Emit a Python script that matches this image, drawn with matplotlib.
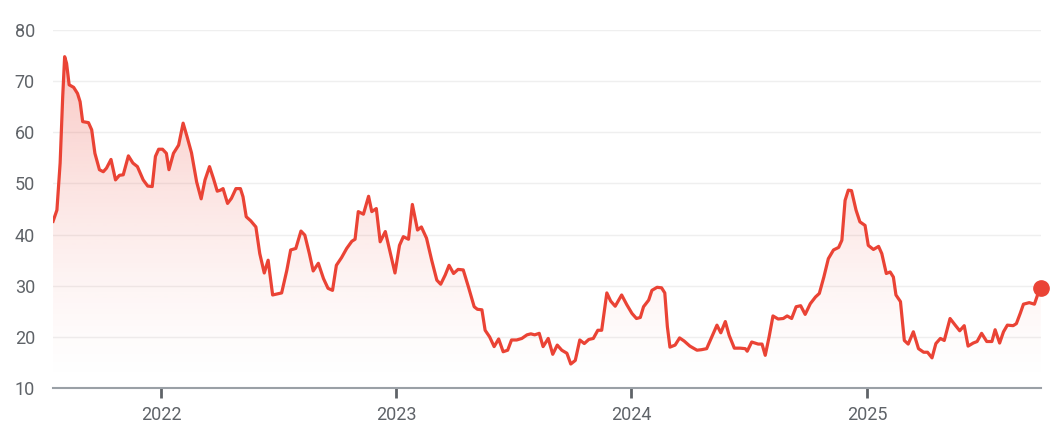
import numpy as np
import pandas as pd
import matplotlib
matplotlib.use("Agg")
import matplotlib.pyplot as plt
import matplotlib.dates as mdates
from matplotlib.patches import Polygon

plt.rcParams['font.family'] = ['Roboto', 'DejaVu Sans']

# weekly-ish series
dates = [
    "2021-07-17", "2021-07-23", "2021-07-28", "2021-08-01", "2021-08-04", "2021-08-07",
    "2021-08-11", "2021-08-18", "2021-08-24", "2021-08-28", "2021-09-01", "2021-09-10",
    "2021-09-15", "2021-09-20", "2021-09-27", "2021-10-03", "2021-10-08", "2021-10-15",
    "2021-10-22", "2021-10-28", "2021-11-03", "2021-11-11", "2021-11-18", "2021-11-25",
    "2021-12-04", "2021-12-11", "2021-12-18", "2021-12-23", "2021-12-28", "2022-01-03",
    "2022-01-09", "2022-01-13", "2022-01-20", "2022-01-28", "2022-02-04", "2022-02-10",
    "2022-02-17", "2022-02-25", "2022-03-04", "2022-03-10", "2022-03-17", "2022-03-23",
    "2022-03-29", "2022-04-03", "2022-04-07", "2022-04-14", "2022-04-20", "2022-04-27",
    "2022-05-04", "2022-05-08", "2022-05-13", "2022-05-20", "2022-05-28", "2022-06-03",
    "2022-06-10", "2022-06-16", "2022-06-23", "2022-06-30", "2022-07-07", "2022-07-15",
    "2022-07-21", "2022-07-29", "2022-08-06", "2022-08-12", "2022-08-19", "2022-08-25",
    "2022-09-02", "2022-09-10", "2022-09-17", "2022-09-24", "2022-09-30", "2022-10-08",
    "2022-10-16", "2022-10-24", "2022-10-29", "2022-11-03", "2022-11-11", "2022-11-19",
    "2022-11-24", "2022-12-01", "2022-12-07", "2022-12-15", "2022-12-23", "2022-12-30",
    "2023-01-06", "2023-01-12", "2023-01-20", "2023-01-26", "2023-02-03", "2023-02-09",
    "2023-02-17", "2023-02-25", "2023-03-05", "2023-03-11", "2023-03-18", "2023-03-24",
    "2023-03-31", "2023-04-07", "2023-04-15", "2023-04-23", "2023-05-02", "2023-05-07",
    "2023-05-14", "2023-05-19", "2023-05-26", "2023-06-02", "2023-06-09", "2023-06-16",
    "2023-06-23", "2023-06-29", "2023-07-07", "2023-07-15", "2023-07-23", "2023-07-29",
    "2023-08-04", "2023-08-11", "2023-08-17", "2023-08-25", "2023-09-01", "2023-09-08",
    "2023-09-15", "2023-09-23", "2023-09-29", "2023-10-06", "2023-10-13", "2023-10-20",
    "2023-10-27", "2023-11-03", "2023-11-10", "2023-11-16", "2023-11-24", "2023-11-30",
    "2023-12-07", "2023-12-17", "2023-12-25", "2024-01-02", "2024-01-09", "2024-01-15",
    "2024-01-20", "2024-01-28", "2024-02-02", "2024-02-10", "2024-02-17", "2024-02-22",
    "2024-02-26", "2024-03-01", "2024-03-09", "2024-03-16", "2024-03-23", "2024-04-01",
    "2024-04-12", "2024-04-19", "2024-04-27", "2024-05-05", "2024-05-13", "2024-05-19",
    "2024-05-26", "2024-06-01", "2024-06-09", "2024-06-18", "2024-06-26", "2024-06-29",
    "2024-07-06", "2024-07-11", "2024-07-16", "2024-07-22", "2024-07-27", "2024-08-02",
    "2024-08-08", "2024-08-16", "2024-08-24", "2024-08-30", "2024-09-06", "2024-09-13",
    "2024-09-20", "2024-09-27", "2024-10-05", "2024-10-13", "2024-10-19", "2024-10-26",
    "2024-11-02", "2024-11-10", "2024-11-18", "2024-11-23", "2024-11-28", "2024-12-03",
    "2024-12-08", "2024-12-15", "2024-12-21", "2024-12-29", "2025-01-03", "2025-01-11",
    "2025-01-19", "2025-01-24", "2025-01-31", "2025-02-06", "2025-02-11", "2025-02-15",
    "2025-02-22", "2025-02-28", "2025-03-06", "2025-03-14", "2025-03-22", "2025-03-30",
    "2025-04-05", "2025-04-12", "2025-04-18", "2025-04-25", "2025-05-01", "2025-05-10",
    "2025-05-18", "2025-05-25", "2025-06-01", "2025-06-07", "2025-06-15", "2025-06-21",
    "2025-06-28", "2025-07-06", "2025-07-14", "2025-07-19", "2025-07-26", "2025-08-01",
    "2025-08-07", "2025-08-16", "2025-08-21", "2025-08-27", "2025-09-01", "2025-09-10",
    "2025-09-18", "2025-09-24", "2025-09-28",
]
values = [
    42.6, 44.8, 54.0, 67.0, 74.8, 73.5,
    69.3, 68.8, 67.6, 66.0, 62.1, 61.9,
    60.5, 55.9, 52.7, 52.3, 53.0, 54.7,
    50.7, 51.6, 51.7, 55.4, 54.0, 53.3,
    50.7, 49.5, 49.4, 55.3, 56.7, 56.7,
    55.9, 52.7, 55.9, 57.5, 61.8, 59.2,
    56.0, 50.3, 47.0, 50.7, 53.3, 51.0,
    48.5, 48.7, 49.0, 46.1, 47.1, 49.0,
    49.0, 47.4, 43.5, 42.7, 41.5, 36.3,
    32.5, 35.0, 28.2, 28.4, 28.6, 33.0,
    37.0, 37.3, 40.7, 39.9, 36.3, 32.9,
    34.4, 31.4, 29.5, 29.1, 34.0, 35.5,
    37.3, 38.7, 39.1, 44.5, 44.0, 47.5,
    44.5, 45.1, 38.6, 40.6, 36.3, 32.5,
    37.9, 39.6, 39.1, 45.9, 40.9, 41.5,
    39.3, 35.0, 31.1, 30.3, 32.1, 34.0,
    32.4, 33.2, 33.1, 29.8, 25.9, 25.4,
    25.3, 21.3, 20.0, 18.1, 19.6, 17.1,
    17.4, 19.4, 19.4, 19.7, 20.4, 20.6,
    20.4, 20.7, 18.1, 19.7, 16.6, 18.4,
    17.4, 16.8, 14.7, 15.4, 19.4, 18.7,
    19.5, 19.7, 21.3, 21.3, 28.6, 27.0,
    26.0, 28.2, 26.3, 24.6, 23.6, 23.8,
    25.9, 27.2, 29.1, 29.7, 29.6, 28.6,
    22.0, 18.0, 18.4, 19.8, 19.2, 18.2,
    17.4, 17.5, 17.7, 20.0, 22.3, 20.8,
    23.0, 20.3, 17.8, 17.8, 17.7, 17.2,
    19.0, 18.8, 18.6, 18.6, 16.4, 20.0,
    24.1, 23.5, 23.6, 24.1, 23.6, 25.9,
    26.1, 24.4, 26.5, 27.8, 28.5, 31.7,
    35.3, 37.0, 37.5, 38.9, 46.7, 48.7,
    48.6, 44.8, 42.5, 41.8, 37.9, 37.1,
    37.7, 36.3, 32.4, 32.7, 31.7, 28.2,
    26.9, 19.3, 18.6, 21.0, 17.7, 17.0,
    17.0, 15.9, 18.7, 19.7, 19.3, 23.6,
    22.3, 21.2, 22.2, 18.2, 18.8, 19.1,
    20.7, 19.1, 19.1, 21.4, 18.8, 21.0,
    22.3, 22.2, 22.6, 24.6, 26.4, 26.7,
    26.4, 28.6, 29.5,
]
y_ticks = [10, 20, 30, 40, 50, 60, 70, 80]
x_ticks = ["2022-01-01", "2023-01-01", "2024-01-01", "2025-01-01"]
x_tick_labels = ["2022", "2023", "2024", "2025"]

red = "#ea4335"
grey_text = "#5f6368"

d = pd.to_datetime(dates)
xn = mdates.date2num(d)
v = np.array(values)

fig = plt.figure(figsize=(10.61, 4.36), dpi=100)
ax = fig.add_axes([0.05, 0.110, 0.931, 0.821])

ax.set_xlim(xn[0], xn[-1])
ax.set_ylim(10, 80)

# gradient fill under the line, fading out towards the baseline
grad = np.zeros((256, 1, 4))
grad[:, 0, 0] = 234 / 255
grad[:, 0, 1] = 67 / 255
grad[:, 0, 2] = 53 / 255
grad[:, 0, 3] = 0.30 * np.linspace(1.0, 0.0, 256) ** 1.4
img = ax.imshow(grad, aspect="auto", extent=(xn[0], xn[-1], 10, 76),
                origin="upper", zorder=1, interpolation="bilinear")
poly = Polygon(np.column_stack([np.r_[xn[0], xn, xn[-1]], np.r_[10, v, 10]]),
               closed=True, facecolor="none", edgecolor="none")
ax.add_patch(poly)
img.set_clip_path(poly)

ax.plot(xn, v, color=red, lw=2.3, zorder=3, solid_joinstyle="round")
ax.plot(xn[-1], v[-1], "o", color=red, ms=11, zorder=4, clip_on=False)

ax.set_yticks(y_ticks)
ax.set_xticks(mdates.date2num(pd.to_datetime(x_ticks)))
ax.set_xticklabels(x_tick_labels)
ax.grid(axis="y", color="#efefef", lw=1.0, zorder=0)
ax.set_axisbelow(True)

for s in ["top", "right", "left"]:
    ax.spines[s].set_visible(False)
ax.spines["bottom"].set_color("#9aa0a6")
ax.spines["bottom"].set_linewidth(1.5)

ax.tick_params(axis="y", length=0, pad=13, labelsize=13, labelcolor=grey_text)
ax.tick_params(axis="x", length=7, width=2, color=grey_text, pad=6,
               labelsize=13, labelcolor=grey_text)

fig.savefig("out.png", dpi=100)
